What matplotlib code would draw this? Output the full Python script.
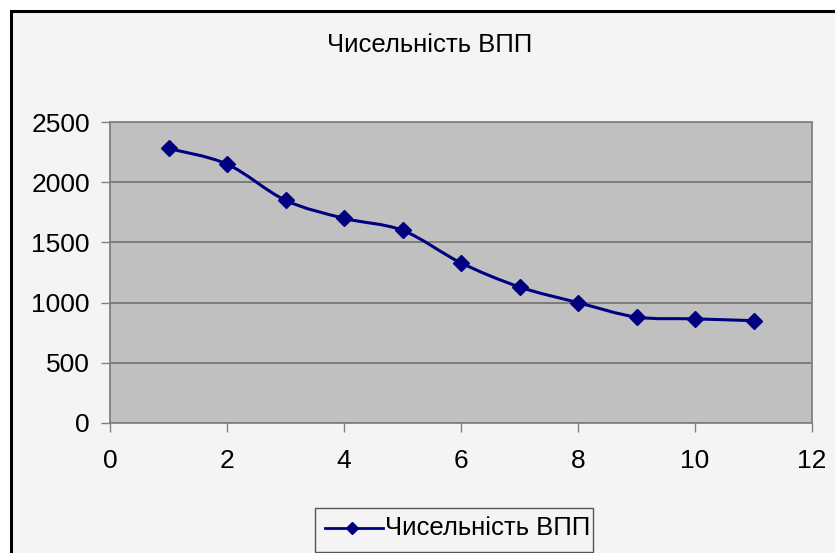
import matplotlib
matplotlib.use("Agg")
import matplotlib.pyplot as plt
import matplotlib.patches as mpatches
from matplotlib.path import Path
from matplotlib.lines import Line2D
import numpy as np

# data
x_vals = [1, 2, 3, 4, 5, 6, 7, 8, 9, 10, 11]
y_vals = [2280, 2150, 1850, 1700, 1600, 1330, 1130, 1000, 880, 865, 850]
series_name = "Чисельність ВПП"
chart_title = "Чисельність ВПП"
x_ticks = [0, 2, 4, 6, 8, 10, 12]
y_ticks = [0, 500, 1000, 1500, 2000, 2500]

plt.rcParams["font.family"] = ["Liberation Sans", "DejaVu Sans"]

navy = "#000080"
W, H = 835, 553
fig = plt.figure(figsize=(W / 100, H / 100), dpi=100)
fig.patch.set_facecolor("white")


def fx(px):
    return px / W


def fy(py):
    return 1 - py / H


# chart area frame (Excel style), right/bottom edges cut off
frame = mpatches.Rectangle(
    (fx(11), -0.05), 1.1, fy(11) + 0.05,
    transform=fig.transFigure, facecolor="#f4f4f4",
    edgecolor="black", lw=2.2, zorder=-10,
)
fig.patches.append(frame)

ax = fig.add_axes([fx(110), fy(423), (812 - 110) / W, (423 - 122) / H])
ax.set_zorder(1)
ax.set_facecolor("#c0c0c0")
for s in ax.spines.values():
    s.set_color("#808080")
    s.set_linewidth(1.3)

ax.set_xlim(0, 12)
ax.set_ylim(0, 2500)
ax.set_xticks(x_ticks)
ax.set_yticks(y_ticks)
ax.tick_params(axis="both", direction="out", length=6.5, width=1, color="#808080",
               labelsize=19, labelcolor="black")
ax.tick_params(axis="x", pad=12)
ax.tick_params(axis="y", pad=8)
ax.yaxis.grid(True, color="#707070", lw=1.2)
ax.set_axisbelow(True)


def smooth_path(xs, ys, t=1 / 6):
    # Catmull-Rom style bezier through the points (Excel "smoothed line")
    pts = np.column_stack([xs, ys]).astype(float)
    verts = [pts[0]]
    codes = [Path.MOVETO]
    n = len(pts)
    for i in range(n - 1):
        p0 = pts[max(i - 1, 0)]
        p1 = pts[i]
        p2 = pts[i + 1]
        p3 = pts[min(i + 2, n - 1)]
        c1 = p1 + (p2 - p0) * t
        c2 = p2 - (p3 - p1) * t
        verts += [c1, c2, p2]
        codes += [Path.CURVE4] * 3
    return Path(verts, codes)


ax.add_patch(mpatches.PathPatch(smooth_path(x_vals, y_vals), facecolor="none",
                                edgecolor=navy, lw=2.2, zorder=3))
ax.plot(x_vals, y_vals, ls="none", marker="D", ms=8.5, color=navy,
        markeredgecolor=navy, zorder=4)

fig.text(fx(430), fy(45), chart_title, ha="center", va="center", fontsize=18.5)

# legend box drawn by hand (Excel layout: text runs right up to the border)
fig.patches.append(mpatches.Rectangle(
    (fx(315), fy(552)), (593 - 315) / W, (552 - 508) / H,
    transform=fig.transFigure, facecolor="#f4f4f4", edgecolor="#555555", lw=1.0, zorder=2))
fig.lines.append(Line2D([fx(325), fx(383)], [fy(528), fy(528)], transform=fig.transFigure,
                        color=navy, lw=2, zorder=3))
fig.lines.append(Line2D([fx(352)], [fy(528)], transform=fig.transFigure, ls="none",
                        marker="D", ms=6.5, color=navy, zorder=4))
fig.text(fx(385), fy(528), series_name, ha="left", va="center", fontsize=18.5, zorder=4)

fig.savefig("out.png", dpi=100)
